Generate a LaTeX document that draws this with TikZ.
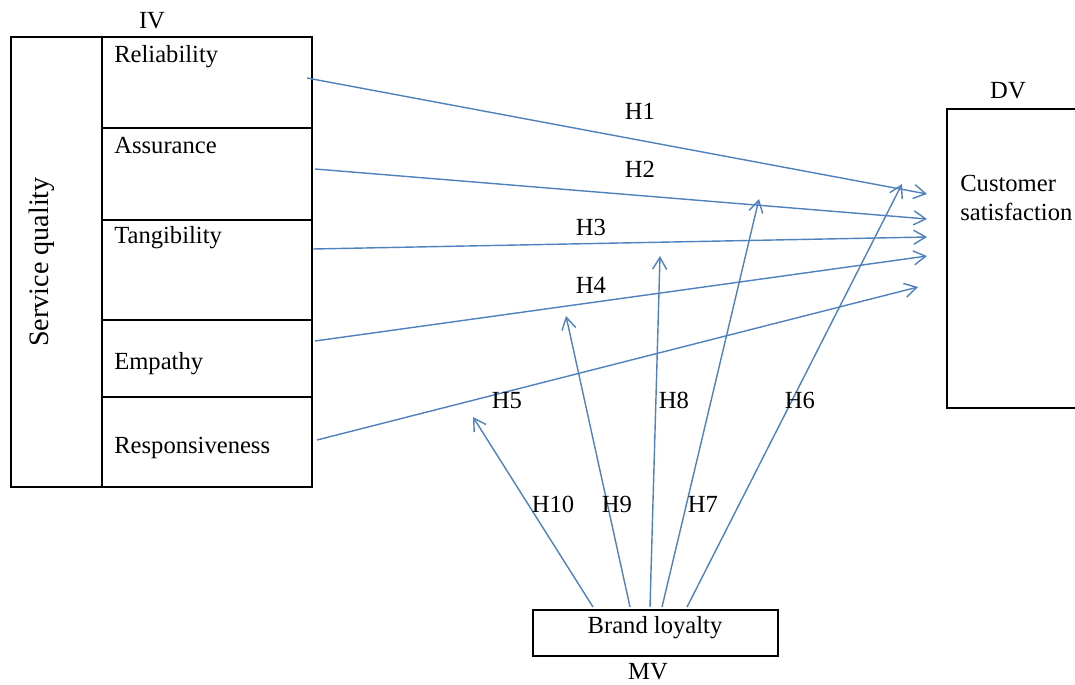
\documentclass[tikz,border=0pt]{standalone}
\usepackage{fontspec}
\setmainfont{Liberation Serif}
\usepackage{xcolor}
\usetikzlibrary{arrows.meta, positioning}
\definecolor{linkblue}{RGB}{79,129,189}

\begin{document}
\begin{tikzpicture}[x=0.025cm, y=-0.025cm, font=\fontsize{17.5}{21}\selectfont,
	link/.style={draw=linkblue, line width=1pt, -{Straight Barb[length=8.5pt,width=10pt]}},
	frame/.style={draw=black, line width=1pt},
	lbl/.style={inner sep=0pt, anchor=base west},
	hyp/.style={inner sep=0pt, anchor=base}]
	\useasboundingbox (0,0) rectangle (1075,684);
	% IV block: outer frame, inner column and cell rules
	\draw[frame] (11,37) rectangle (312,487);
	\draw[frame] (102,37) -- (102,487);
	\foreach \y in {128,220,320,397}
	\draw[frame] (102,\y) -- (312,\y);
	\node[hyp] (iv) at (152,28) {IV};
	\node[rotate=90, font=\fontsize{20}{24}\selectfont] (sq) at (42,262) {Service quality};
	\node[lbl] (rel) at (114,62) {Reliability};
	\node[lbl] (asr) at (114,153) {Assurance};
	\node[lbl] (tan) at (114,243) {Tangibility};
	\node[lbl] (emp) at (114,369) {Empathy};
	\node[lbl] (res) at (114,453) {Responsiveness};
	% DV block, open on the right
	\draw[frame] (1085,109) -- (947,109) -- (947,408) -- (1085,408);
	\node[hyp] (dv) at (1008,98) {DV};
	\node[lbl] (cs1) at (960,191) {Customer};
	\node[lbl] (cs2) at (960,220) {satisfaction};
	% MV block
	\node[frame, minimum width=6.125cm, minimum height=1.15cm, inner sep=0pt] (bl) at (655.5,633) {};
	\node[hyp] (bltext) at (655,633) {Brand loyalty};
	\node[hyp] (mv) at (648,679) {MV};
	% direct paths H1--H5
	\foreach \i/\sx/\sy/\tx/\ty in {1/307/78/927/194, 2/315/169/927/219, 3/313/249/927/237,
		4/315/341/927/256, 5/317/440/918/287}
	{
		\coordinate (s\i) at (\sx,\sy);
		\coordinate (t\i) at (\tx,\ty);
		\draw[link] (s\i) -- (t\i);
	}
	% moderating paths H6--H10
	\foreach \i/\sx/\tx/\ty in {10/593/473/417, 9/630/566/316, 8/650/660/256,
		7/662/759/199, 6/687/902/184}
	{
		\coordinate (m\i) at (\sx,607);
		\coordinate (u\i) at (\tx,\ty);
		\draw[link] (m\i) -- (u\i);
	}
	% hypothesis labels
	\node[hyp] (h1) at (640,119) {H1};
	\node[hyp] (h2) at (640,177) {H2};
	\node[hyp] (h3) at (591,235) {H3};
	\node[hyp] (h4) at (591,293) {H4};
	\node[hyp] (h5) at (507,408) {H5};
	\node[hyp] (h8) at (674,408) {H8};
	\node[hyp] (h6) at (800,408) {H6};
	\node[hyp] (h10) at (553,512) {H10};
	\node[hyp] (h9) at (617,512) {H9};
	\node[hyp] (h7) at (703,512) {H7};
\end{tikzpicture}
\end{document}
